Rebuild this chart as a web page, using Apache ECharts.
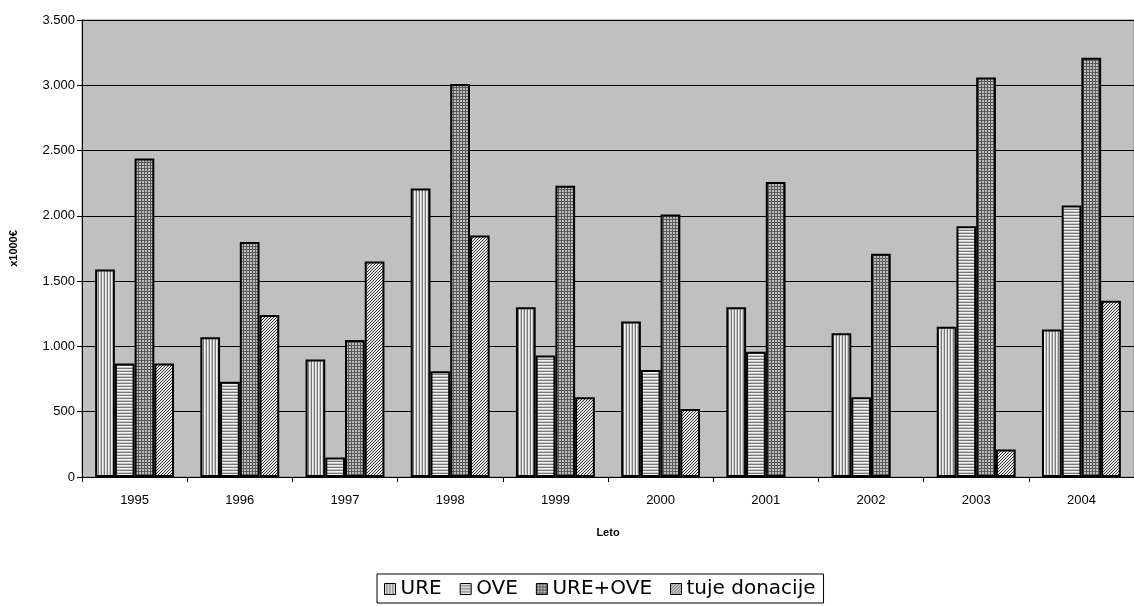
<!DOCTYPE html>
<html><head><meta charset="utf-8">
<script src="https://cdn.jsdelivr.net/npm/echarts@6/dist/echarts.min.js"></script>
<style>html,body{margin:0;padding:0;background:#fff}#c{width:1134px;height:606px}</style>
</head><body><div id="c"></div>
<script>
const categories = ['1995','1996','1997','1998','1999','2000','2001','2002','2003','2004'];
const seriesNames = ['URE','OVE','URE+OVE','tuje donacije'];
const ure = [1590,1070,900,2210,1300,1190,1300,1100,1150,1130];
const ove = [870,730,150,810,930,820,960,610,1920,2080];
const ureOve = [2440,1800,1050,3010,2230,2010,2260,1710,3060,3210];
const tuje = [870,1240,1650,1850,610,520,null,null,210,1350];
const yTicks = [0,500,1000,1500,2000,2500,3000,3500];

function tile(kind){
  const c=document.createElement('canvas');
  const g=c.getContext('2d');
  if(kind==='v'){c.width=3;c.height=3;
    ['#f2f2f2','#c8c8c8','#7a7a7a'].forEach((col,i)=>{g.fillStyle=col;g.fillRect(i,0,1,3);});}
  if(kind==='h'){c.width=3;c.height=3;
    ['#f2f2f2','#c8c8c8','#7a7a7a'].forEach((col,i)=>{g.fillStyle=col;g.fillRect(0,i,3,1);});}
  if(kind==='g'){c.width=3;c.height=3;g.fillStyle='#bcbcbc';g.fillRect(0,0,3,3);
    g.fillStyle='#5a5a5a';g.fillRect(0,0,3,1);g.fillRect(0,0,1,3);}
  if(kind==='d'){c.width=3;c.height=3;g.fillStyle='#e6e6e6';g.fillRect(0,0,3,3);
    for(let i=0;i<3;i++){g.fillStyle='#3c3c3c';g.fillRect(2-i,i,1,1);} }
  return c;
}
const pats=[tile('v'),tile('h'),tile('g'),tile('d')];
const dataArr=[ure,ove,ureOve,tuje];

const chart=echarts.init(document.getElementById('c'),null,{renderer:'canvas'});
const font='Liberation Sans, Arial, sans-serif';
chart.setOption({
  animation:false,
  grid:{left:82,right:0,top:20,bottom:129,backgroundColor:'#c0c0c0',show:true,borderColor:'#808080',borderWidth:1},
  legend:{
    bottom:3,left:377,data:seriesNames,icon:'rect',itemWidth:11,itemHeight:11,itemGap:18,
    borderColor:'#000',borderWidth:1,padding:[5,8,4,7],
    textStyle:{fontFamily:'DejaVu Sans, sans-serif',fontSize:20,color:'#000'},
    itemStyle:{borderColor:'#000',borderWidth:1}
  },
  xAxis:{type:'category',data:categories,
    name:'Leto',nameLocation:'middle',nameGap:50,
    nameTextStyle:{fontFamily:font,fontSize:11,fontWeight:'bold',color:'#000'},
    axisLine:{lineStyle:{color:'#000',width:1}},
    axisTick:{show:true,alignWithLabel:false,length:5,lineStyle:{color:'#000'}},
    axisLabel:{fontFamily:font,fontSize:13,color:'#000',margin:17}
  },
  yAxis:{type:'value',min:0,max:3500,interval:500,
    name:'x1000€',nameLocation:'middle',nameGap:63,nameRotate:90,
    nameTextStyle:{fontFamily:font,fontSize:11,fontWeight:'bold',color:'#000'},
    axisLine:{show:true,lineStyle:{color:'#000',width:1}},
    axisTick:{show:true,length:5,inside:false,lineStyle:{color:'#000'}},
    axisLabel:{fontFamily:font,fontSize:13,color:'#000',margin:7,
      formatter:v=>yTicks.includes(v)?String(v).replace(/\B(?=(\d{3})+(?!\d))/g,'.'):''},
    splitLine:{show:true,lineStyle:{color:'#000',width:1}}
  },
  series:seriesNames.map((n,i)=>({
    name:n,type:'bar',data:dataArr[i],barGap:'0%',barCategoryGap:'25%',
    itemStyle:{color:{image:pats[i],repeat:'repeat'},borderColor:'#000',borderWidth:2}
  }))
});
</script></body></html>
